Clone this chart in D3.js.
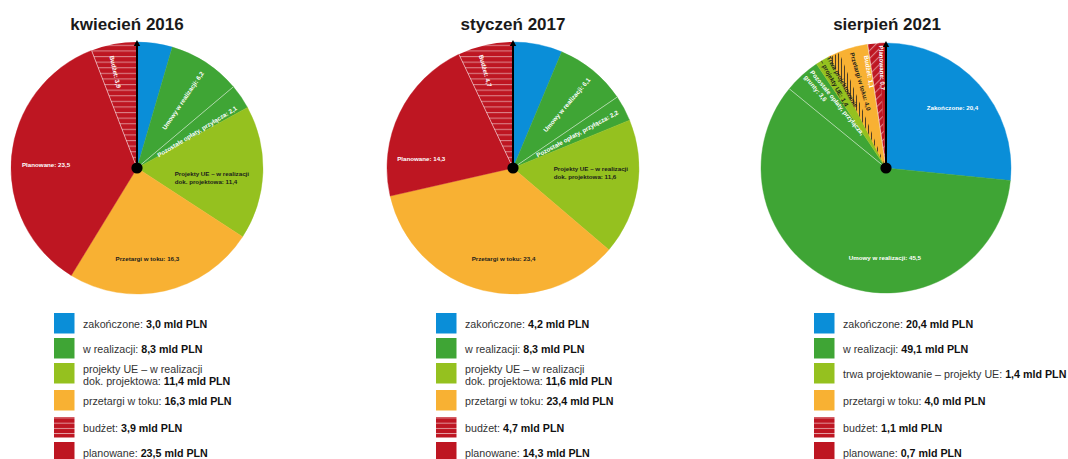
<!DOCTYPE html>
<html>
<head>
<meta charset="utf-8">
<script src="https://cdn.jsdelivr.net/npm/d3@7"></script>
<style>
  body { margin: 0; background: #fff; }
  svg text { font-family: "Liberation Sans", Arial, Helvetica, sans-serif; }
</style>
</head>
<body>
<svg id="chart" width="1068" height="459"></svg>
<script>
// ---- data -------------------------------------------------------------
const titles = ["kwiecień 2016", "styczeń 2017", "sierpień 2021"];

// slice order, clockwise from 12 o'clock
const slices2016 = ["zakonczone", "umowy", "pozostale", "projektyUE", "przetargi", "planowane", "budzet"];
const values2016 = [3.0, 6.2, 2.1, 11.4, 16.3, 23.5, 3.9];
const labels2016 = ["", "Umowy w realizacji: 6,2", "Pozostałe opłaty, przyłącza: 2,1",
  "Projekty UE – w realizacji\ndok. projektowa: 11,4", "Przetargi w toku: 16,3", "Planowane: 23,5", "Budżet: 3,9"];

const slices2017 = ["zakonczone", "umowy", "pozostale", "projektyUE", "przetargi", "planowane", "budzet"];
const values2017 = [4.2, 6.1, 2.2, 11.6, 23.4, 14.3, 4.7];
const labels2017 = ["", "Umowy w realizacji: 6,1", "Pozostałe opłaty, przyłącza: 2,2",
  "Projekty UE – w realizacji\ndok. projektowa: 11,6", "Przetargi w toku: 23,4", "Planowane: 14,3", "Budżet: 4,7"];

const slices2021 = ["zakonczone", "umowy", "pozostale", "projektyUE", "przetargi", "budzet", "planowane"];
const values2021 = [20.4, 45.5, 3.6, 1.4, 4.0, 1.1, 0.7];
const labels2021 = ["Zakończone: 20,4", "Umowy w realizacji: 45,5", "Pozostałe opłaty, przyłącza,\ngrunty: 3,6",
  "Trwa projektowanie\n– projekty UE: 1,4", "Przetargi w toku: 4,0", "Budżet: 1,1", "Planowane: 0,7"];
// hatched share of the "przetargi" slice in 2021
const hatched2021 = 1.1;

// legend rows
const legendKeys = ["zakonczone", "umowy", "projektyUE", "przetargi", "budzet", "planowane"];
const legendText2016 = ["zakończone: ", "w realizacji: ", "projekty UE – w realizacji\ndok. projektowa: ",
  "przetargi w toku: ", "budżet: ", "planowane: "];
const legendValues2016 = [3.0, 8.3, 11.4, 16.3, 3.9, 23.5];
const legendText2017 = legendText2016;
const legendValues2017 = [4.2, 8.3, 11.6, 23.4, 4.7, 14.3];
const legendText2021 = ["zakończone: ", "w realizacji: ", "trwa projektowanie – projekty UE: ",
  "przetargi w toku: ", "budżet: ", "planowane: "];
const legendValues2021 = [20.4, 49.1, 1.4, 4.0, 1.1, 0.7];

// ---- layout & style ---------------------------------------------------
const BLUE = "#0a8ed8", GREEN = "#3fa535", LIME = "#95c11f", ORANGE = "#f8b133", RED = "#be1622";
const DARK = "#1d1d1b";

const pieCX = [137, 513, 886];
const pieCY = 168;
const pieR = [126, 126, 125];
const titleX = [127, 513, 887];
const legendX = [54, 436, 814];
const legendRowTop = [313, 338, 363, 390, 417, 442];

// label placement: radius fraction, angle shift (deg), orientation, colour
const place2016 = [null,
  {r: .65, da: 1, mode: "radial", fill: "#fff"},
  {r: .56, da: 3, mode: "radial", fill: "#fff"},
  {r: .60, da: 5, mode: "flat", fill: DARK},
  {r: .72, da: 6, mode: "flat", fill: DARK},
  {r: .72, da: -3, mode: "flat", fill: "#fff"},
  {r: .78, da: -2, mode: "radial", fill: "#fff"}];
const place2017 = [null,
  {r: .66, da: 1, mode: "radial", fill: "#fff"},
  {r: .58, da: 0, mode: "radial", fill: "#fff"},
  {r: .62, da: -6, mode: "flat", fill: DARK},
  {r: .72, da: -8, mode: "flat", fill: DARK},
  {r: .73, da: -20, mode: "flat", fill: "#fff"},
  {r: .80, da: -3, mode: "radial", fill: "#fff"}];
const place2021 = [
  {r: .72, da: 0, mode: "flat", fill: "#fff"},
  {r: .72, da: -22, mode: "flat", fill: "#fff"},
  {r: .65, da: 3, mode: "radial", fill: "#fff"},
  {r: .77, da: 1.5, mode: "radial", fill: DARK},
  {r: .72, da: 1.5, mode: "radial", fill: DARK},
  {r: .78, da: -4, mode: "radial", fill: "#fff"},
  {r: .80, da: -0.5, mode: "radial", fill: "#fff"}];

const svg = d3.select("#chart");
const defs = svg.append("defs");

// budget: red with light stripes
function stripePattern(id, rotate) {
  const p = defs.append("pattern").attr("id", id)
    .attr("patternUnits", "userSpaceOnUse").attr("width", 8).attr("height", 5.6);
  if (rotate) p.attr("patternTransform", `rotate(${rotate})`);
  p.append("rect").attr("width", 8).attr("height", 5.6).attr("fill", RED);
  p.append("rect").attr("width", 8).attr("height", 1.1).attr("fill", "#fff").attr("opacity", 0.45);
}
stripePattern("budgetH", 0);
stripePattern("budgetD", -45);
{
  const p = defs.append("pattern").attr("id", "legendBudget")
    .attr("patternUnits", "userSpaceOnUse").attr("width", 10).attr("height", 5.2).attr("y", 1.5);
  p.append("rect").attr("width", 10).attr("height", 5.2).attr("fill", RED);
  p.append("rect").attr("width", 10).attr("height", 0.9).attr("fill", "#fff").attr("opacity", 0.6);
}
{
  const p = defs.append("pattern").attr("id", "hatchBlack")
    .attr("patternUnits", "userSpaceOnUse").attr("width", 3).attr("height", 4);
  p.append("rect").attr("width", 0.8).attr("height", 4).attr("fill", "#222");
}

const charts = [
  {keys: slices2016, values: values2016, labels: labels2016, place: place2016,
   legendText: legendText2016, legendValues: legendValues2016, budget: "url(#budgetH)"},
  {keys: slices2017, values: values2017, labels: labels2017, place: place2017,
   legendText: legendText2017, legendValues: legendValues2017, budget: "url(#budgetH)"},
  {keys: slices2021, values: values2021, labels: labels2021, place: place2021,
   legendText: legendText2021, legendValues: legendValues2021, budget: "url(#budgetD)",
   hatch: {key: "przetargi", value: hatched2021}}
];

const fmt = v => d3.format(".1f")(v).replace(".", ",");
const toRad = d => d * Math.PI / 180;

charts.forEach((c, i) => {
  const cx = pieCX[i], r = pieR[i];
  const fillOf = {zakonczone: BLUE, umowy: GREEN, pozostale: GREEN, projektyUE: LIME,
                  przetargi: ORANGE, planowane: RED, budzet: c.budget};

  // title
  svg.append("text").attr("x", titleX[i]).attr("y", 30)
    .attr("text-anchor", "middle").attr("font-size", 17).attr("font-weight", "bold")
    .attr("fill", "#1a1a1a").text(titles[i]);

  const g = svg.append("g").attr("transform", `translate(${cx},${pieCY})`);
  const pie = d3.pie().sort(null).value(d => d.v);
  const arcs = pie(c.keys.map((k, j) => ({k, v: c.values[j], j})));
  const arc = d3.arc().innerRadius(0).outerRadius(r);

  g.selectAll("path.slice").data(arcs).join("path")
    .attr("class", "slice")
    .attr("d", arc)
    .attr("fill", d => fillOf[d.data.k])
    .attr("stroke", d => fillOf[d.data.k].startsWith("url") ? "none" : fillOf[d.data.k])
    .attr("stroke-width", 0.4);

  // hatched part of a slice
  if (c.hatch) {
    const a = arcs.find(d => d.data.k === c.hatch.key);
    const total = d3.sum(c.values);
    const span = c.hatch.value / total * 2 * Math.PI;
    g.append("path")
      .attr("d", d3.arc().innerRadius(0).outerRadius(r - 1)({startAngle: a.startAngle, endAngle: a.startAngle + span}))
      .attr("fill", "url(#hatchBlack)");
  }

  // thin light separators: between the two green slices and at the budget boundary
  const sepAngles = [];
  arcs.forEach(d => {
    if (d.data.k === "pozostale") sepAngles.push(d.startAngle);
    if (d.data.k === "budzet") sepAngles.push(d.startAngle);
  });
  sepAngles.forEach(a => {
    g.append("line")
      .attr("x1", 0).attr("y1", 0)
      .attr("x2", r * Math.sin(a)).attr("y2", -r * Math.cos(a))
      .attr("stroke", "#fff").attr("stroke-opacity", 0.75).attr("stroke-width", 0.7);
  });

  // slice labels
  arcs.forEach((d, j) => {
    const txt = c.labels[j], pl = c.place[j];
    if (!txt || !pl) return;
    const mid = (d.startAngle + d.endAngle) / 2 * 180 / Math.PI + pl.da;
    const rr = r * pl.r;
    const x = rr * Math.sin(toRad(mid)), y = -rr * Math.cos(toRad(mid));
    let rot = 0;
    if (pl.mode === "radial") rot = mid < 180 ? mid - 90 : mid - 270;
    const lg = g.append("g").attr("transform", `translate(${x},${y}) rotate(${rot})`);
    const t = lg.append("text").attr("font-size", 6.2).attr("font-weight", "bold")
      .attr("fill", pl.fill).attr("text-anchor", "start");
    txt.split("\n").forEach((line, k) => {
      t.append("tspan").attr("x", 0).attr("dy", k === 0 ? 0 : "1.25em").text(line);
    });
    const bb = t.node().getBBox();
    t.attr("transform", `translate(${-(bb.x + bb.width / 2)},${-(bb.y + bb.height / 2)})`);
  });

  // 12 o'clock marker with arrow head and hub
  g.append("line").attr("x1", 0).attr("y1", 0).attr("x2", 0).attr("y2", -r + 3)
    .attr("stroke", "#000").attr("stroke-width", 2);
  g.append("path")
    .attr("d", `M0,${-r - 2} L3.2,${-r + 4} L-3.2,${-r + 4} Z`)
    .attr("fill", "#000");
  g.append("circle").attr("r", 5.6).attr("fill", "#000");

  // legend
  const lx = legendX[i];
  const legFill = {zakonczone: BLUE, umowy: GREEN, projektyUE: LIME, przetargi: ORANGE,
                   budzet: "url(#legendBudget)", planowane: RED};
  legendKeys.forEach((k, j) => {
    const top = legendRowTop[j];
    svg.append("rect").attr("x", lx).attr("y", top).attr("width", 20.5).attr("height", 20.5)
      .attr("fill", legFill[k]);
    const lines = c.legendText[j].split("\n");
    const t = svg.append("text").attr("font-size", 10.7).attr("fill", "#333");
    const baseY = lines.length > 1 ? top + 10 : top + 15;
    lines.forEach((line, k2) => {
      t.append("tspan").attr("x", lx + 29).attr("y", baseY + k2 * 12).text(line);
      if (k2 === lines.length - 1) {
        t.append("tspan").attr("font-weight", "bold").attr("fill", "#111")
          .text(fmt(c.legendValues[j]) + " mld PLN");
      }
    });
  });
});
</script>
</body>
</html>
